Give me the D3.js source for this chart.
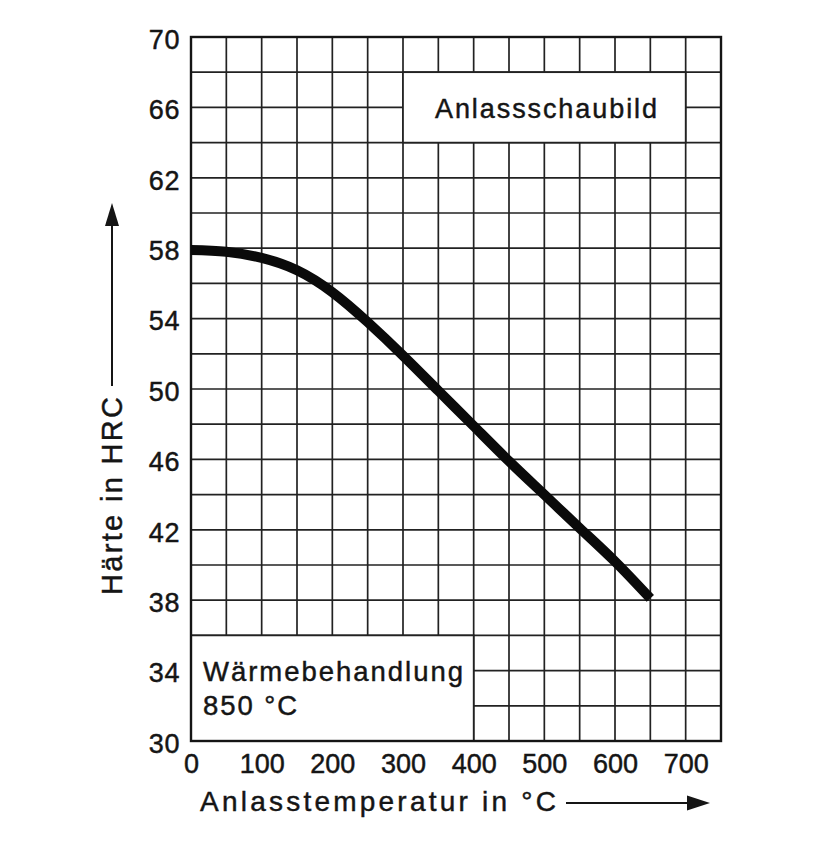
<!DOCTYPE html>
<html>
<head>
  <title>Anlassschaubild</title>
  <style>
    body { margin: 0; background: #fff; }
    svg text { font-family: "Liberation Sans", Arial, sans-serif; fill: #151515; stroke: #151515; stroke-width: 0.45px; }
  </style>
  <script src="https://d3js.org/d3.v7.min.js"></script>
</head>
<body>
  <div id="chart"></div>

  <script>
    // Anlasstemperatur (°C) and Härte (HRC)
    var temperatures = [0, 50, 100, 150, 200, 250, 300, 350, 400, 450, 500, 550, 600, 650];
    var hardness = [57.9, 57.8, 57.45, 56.75, 55.5, 53.8, 51.9, 49.9, 47.9, 45.9, 44.0, 42.1, 40.2, 38.1];
    var xTicks = [0, 100, 200, 300, 400, 500, 600, 700];
    var yTicks = [30, 34, 38, 42, 46, 50, 54, 58, 62, 66, 70];
    var xTitle = "Anlasstemperatur in °C";
    var yTitle = "Härte in HRC";
    var titleText = "Anlassschaubild";
    var noteLines = ["Wärmebehandlung", "850 °C"];

    var margin = { top: 37, right: 93, bottom: 124, left: 191 };
    var width = 814 - margin.left - margin.right;
    var height = 865 - margin.top - margin.bottom;

    var svg = d3.select("#chart")
      .append("svg")
      .attr("width", 814)
      .attr("height", 865);

    var g = svg.append("g")
      .attr("transform", "translate(" + margin.left + "," + margin.top + ")");

    var x = d3.scaleLinear().domain([0, 750]).range([0, width]);
    var y = d3.scaleLinear().domain([30, 70]).range([height, 0]);

    // grid, one line every 50 °C and every 2 HRC
    g.selectAll("line.vgrid")
      .data(d3.range(0, 751, 50))
      .enter().append("line")
      .attr("class", "vgrid")
      .attr("x1", function(d) { return x(d); })
      .attr("x2", function(d) { return x(d); })
      .attr("y1", 0).attr("y2", height)
      .attr("stroke", "#222").attr("stroke-width", 1.7);

    g.selectAll("line.hgrid")
      .data(d3.range(30, 71, 2))
      .enter().append("line")
      .attr("class", "hgrid")
      .attr("x1", 0).attr("x2", width)
      .attr("y1", function(d) { return y(d); })
      .attr("y2", function(d) { return y(d); })
      .attr("stroke", "#222").attr("stroke-width", 1.7);

    // boxes that cover the grid
    g.append("rect")
      .attr("x", x(300)).attr("y", y(68))
      .attr("width", x(700) - x(300)).attr("height", y(64) - y(68))
      .attr("fill", "#fff").attr("stroke", "#222").attr("stroke-width", 1.7);

    svg.append("text")
      .attr("x", 435)
      .attr("y", 118)
      .attr("textLength", 222)
      .attr("lengthAdjust", "spacing")
      .style("font-size", "27px")
      .text(titleText);

    g.append("rect")
      .attr("x", x(0)).attr("y", y(36))
      .attr("width", x(400) - x(0)).attr("height", y(30) - y(36))
      .attr("fill", "#fff").attr("stroke", "#222").attr("stroke-width", 1.7);

    svg.selectAll("text.note")
      .data(noteLines)
      .enter().append("text")
      .attr("class", "note")
      .attr("x", 203)
      .attr("y", function(d, i) { return 681 + i * 34; })
      .attr("textLength", function(d, i) { return i === 0 ? 260 : 94; })
      .attr("lengthAdjust", "spacing")
      .style("font-size", "27.5px")
      .text(function(d) { return d; });

    // frame
    g.append("rect")
      .attr("width", width).attr("height", height)
      .attr("fill", "none").attr("stroke", "#151515").attr("stroke-width", 2.4);

    // curve
    var line = d3.line()
      .x(function(d, i) { return x(temperatures[i]); })
      .y(function(d) { return y(d); })
      .curve(d3.curveNatural);

    g.append("path")
      .datum(hardness)
      .attr("d", line)
      .attr("fill", "none")
      .attr("stroke", "#0a0a0a")
      .attr("stroke-width", 10);

    // axes, labels only
    var yAxis = g.append("g")
      .call(d3.axisLeft(y).tickValues(yTicks).tickSize(0).tickPadding(11));
    yAxis.select(".domain").remove();
    yAxis.selectAll("text")
      .style("font-size", "27px")
      .style("letter-spacing", "0.6px")
      .attr("dy", "0.42em");

    var xAxis = g.append("g")
      .attr("transform", "translate(0," + height + ")")
      .call(d3.axisBottom(x).tickValues(xTicks).tickSize(0).tickPadding(13));
    xAxis.select(".domain").remove();
    xAxis.selectAll("text")
      .style("font-size", "27px")
      .attr("dy", "0.71em");

    // axis titles with arrows
    svg.append("text")
      .attr("x", 200)
      .attr("y", 811)
      .attr("textLength", 356)
      .attr("lengthAdjust", "spacing")
      .style("font-size", "28px")
      .text(xTitle);

    svg.append("line")
      .attr("x1", 566).attr("x2", 690)
      .attr("y1", 803).attr("y2", 803)
      .attr("stroke", "#151515").attr("stroke-width", 2);
    svg.append("path")
      .attr("d", "M687,795.5 L710,803 L687,810.5 Z")
      .attr("fill", "#151515");

    svg.append("text")
      .attr("transform", "translate(122,595) rotate(-90)")
      .attr("textLength", 198)
      .attr("lengthAdjust", "spacing")
      .style("font-size", "29px")
      .text(yTitle);

    svg.append("line")
      .attr("x1", 112).attr("x2", 112)
      .attr("y1", 386).attr("y2", 222)
      .attr("stroke", "#151515").attr("stroke-width", 2);
    svg.append("path")
      .attr("d", "M105,226 L112,203 L119,226 Z")
      .attr("fill", "#151515");
  </script>
</body>
</html>
